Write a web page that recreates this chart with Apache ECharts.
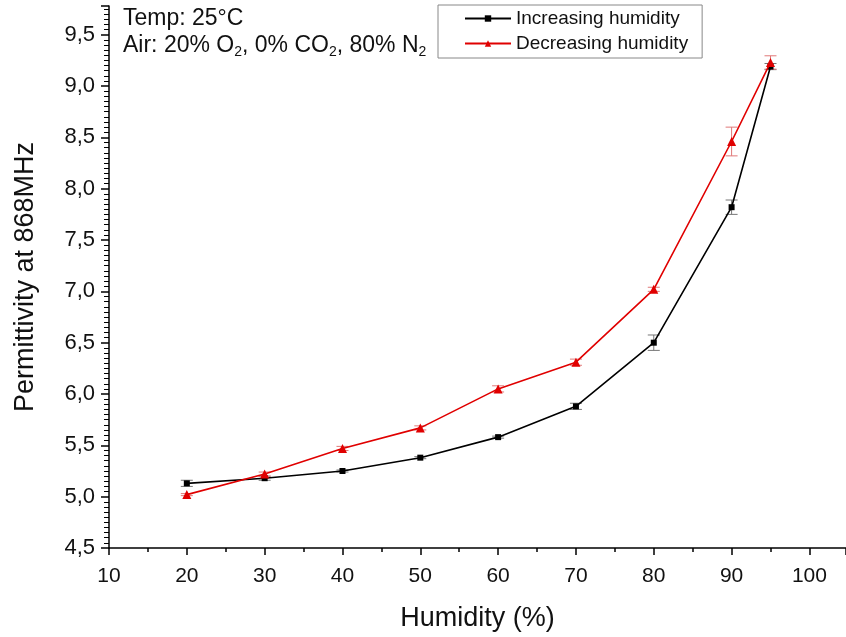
<!DOCTYPE html>
<html>
<head>
<meta charset="utf-8">
<script src="https://cdn.jsdelivr.net/npm/echarts@6/dist/echarts.min.js"></script>
<style>
  html, body { margin: 0; padding: 0; background: #fff; }
  #chart { width: 846px; height: 637px; }
</style>
</head>
<body>
<div id="chart"></div>
<script>
// humidity steps (%)
const humidity = [20, 30, 40, 50, 60, 70, 80, 90, 95]

// permittivity at 868 MHz
const incMean = [5.13, 5.18, 5.25, 5.38, 5.58, 5.88, 6.50, 7.82, 9.19]
const incErr = [0.03, 0.02, 0.01, 0.01, 0.01, 0.03, 0.075, 0.07, 0.03]
const decMean = [5.02, 5.22, 5.47, 5.67, 6.05, 6.31, 7.02, 8.46, 9.23]
const decErr = [0.01, 0.02, 0.02, 0.02, 0.03, 0.03, 0.02, 0.14, 0.065]

const FONT = 'Liberation Sans, Arial, sans-serif'

function errorSeries(mean, err, color) {
  return {
    type: 'custom',
    silent: true,
    z: 1,
    data: humidity.map((h, i) => [h, mean[i] - err[i], mean[i] + err[i]]),
    renderItem: (params, api) => {
      const lo = api.coord([api.value(0), api.value(1)])
      const hi = api.coord([api.value(0), api.value(2)])
      const w = 6
      const st = { stroke: color, lineWidth: 1 }
      return {
        type: 'group',
        children: [
          { type: 'line', shape: { x1: lo[0], y1: lo[1], x2: hi[0], y2: hi[1] }, style: st },
          { type: 'line', shape: { x1: lo[0] - w, y1: lo[1], x2: lo[0] + w, y2: lo[1] }, style: st },
          { type: 'line', shape: { x1: hi[0] - w, y1: hi[1], x2: hi[0] + w, y2: hi[1] }, style: st },
        ],
      }
    },
  }
}

const chart = echarts.init(document.getElementById('chart'))

chart.setOption({
  animation: false,
  textStyle: { fontFamily: FONT },
  grid: { left: 109, right: 0, top: 6, bottom: 87 },
  legend: {
    left: 438,
    top: 5,
    orient: 'vertical',
    padding: [4, 14, 5, 26],
    itemGap: 6,
    itemWidth: 46,
    itemHeight: 8,
    borderColor: '#888',
    borderWidth: 1,
    textStyle: { fontSize: 19, color: '#111', fontFamily: FONT },
    data: ['Increasing humidity', 'Decreasing humidity'],
  },
  graphic: [{
    type: 'text',
    left: 123,
    top: 5,
    style: {
      text: 'Temp: 25°C\nAir: 20% O{s|2}, 0% CO{s|2}, 80% N{s|2}',
      font: '23px ' + FONT,
      fill: '#111',
      lineHeight: 27,
      rich: {
        s: { fontSize: 14, verticalAlign: 'bottom', padding: [14, 0, 0, 0], fontFamily: FONT },
      },
    },
  }],
  xAxis: {
    type: 'value',
    min: 10,
    max: 104.7,
    interval: 10,
    name: 'Humidity (%)',
    nameLocation: 'middle',
    nameGap: 57,
    nameTextStyle: { fontSize: 27, color: '#111', fontFamily: FONT },
    axisLine: { lineStyle: { color: '#000', width: 1.5 } },
    axisTick: { show: true, length: 7, lineStyle: { color: '#000', width: 1.5 } },
    minorTick: { show: true, splitNumber: 2, length: 4, lineStyle: { color: '#000', width: 1.5 } },
    axisLabel: { fontSize: 21, color: '#111', margin: 18, showMaxLabel: false,
      formatter: v => (v > 100 ? '' : String(v)) },
    splitLine: { show: false },
  },
  yAxis: {
    type: 'value',
    min: 4.5,
    max: 9.78,
    interval: 0.5,
    name: 'Permittivity at 868MHz',
    nameLocation: 'middle',
    nameGap: 70,
    nameTextStyle: { fontSize: 27, color: '#111', fontFamily: FONT },
    axisLine: { show: true, lineStyle: { color: '#000', width: 1.5 } },
    axisTick: { show: true, length: 8, lineStyle: { color: '#000', width: 1.5 } },
    minorTick: { show: true, splitNumber: 10, length: 5, lineStyle: { color: '#000', width: 1 } },
    axisLabel: { fontSize: 22, color: '#111', margin: 14, showMaxLabel: false,
      formatter: v => (v > 9.6 ? '' : v.toFixed(1).replace('.', ',')) },
    splitLine: { show: false },
  },
  series: [
    errorSeries(incMean, incErr, '#777'),
    errorSeries(decMean, decErr, '#e07878'),
    {
      name: 'Increasing humidity',
      type: 'line',
      z: 3,
      data: humidity.map((h, i) => [h, incMean[i]]),
      symbol: 'rect',
      symbolSize: 6,
      itemStyle: { color: '#000' },
      lineStyle: { color: '#000', width: 1.6 },
    },
    {
      name: 'Decreasing humidity',
      type: 'line',
      z: 4,
      data: humidity.map((h, i) => [h, decMean[i]]),
      symbol: 'triangle',
      symbolSize: 9,
      itemStyle: { color: '#e00000' },
      lineStyle: { color: '#e00000', width: 1.6 },
    },
  ],
})
</script>
</body>
</html>
